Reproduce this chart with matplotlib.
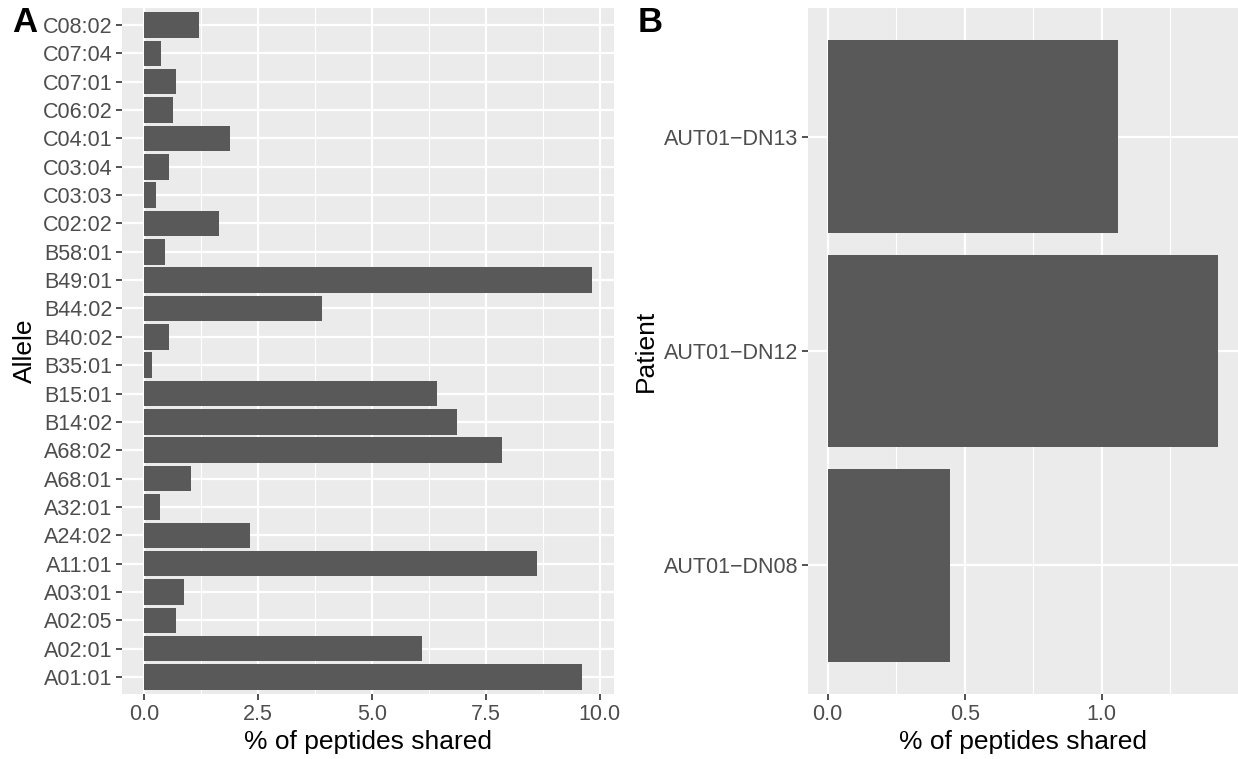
import matplotlib.pyplot as plt
import numpy as np
from matplotlib.ticker import MultipleLocator

plt.rcParams["font.family"] = ["Liberation Sans", "DejaVu Sans"]

alleles = ["A01:01", "A02:01", "A02:05", "A03:01", "A11:01", "A24:02", "A32:01",
           "A68:01", "A68:02", "B14:02", "B15:01", "B35:01", "B40:02", "B44:02",
           "B49:01", "B58:01", "C02:02", "C03:03", "C03:04", "C04:01", "C06:02",
           "C07:01", "C07:04", "C08:02"]
allele_pct = [9.60, 6.09, 0.69, 0.86, 8.61, 2.31, 0.34,
              1.03, 7.86, 6.86, 6.43, 0.17, 0.54, 3.89,
              9.82, 0.46, 1.64, 0.25, 0.54, 1.87, 0.63,
              0.69, 0.36, 1.20]

patients = ["AUT01\u2212DN08", "AUT01\u2212DN12", "AUT01\u2212DN13"]
patient_pct = [0.445, 1.425, 1.06]

BG = "#EBEBEB"
BAR = "#595959"
TICK = "#4D4D4D"
W, H = 1238, 759

fig = plt.figure(figsize=(W / 100, H / 100), dpi=100)


def gg_axes(rect, cats, vals, major, ylabel):
    ax = fig.add_axes(rect)
    ax.set_facecolor(BG)
    y = np.arange(len(cats))
    ax.barh(y, vals, height=0.9, color=BAR, zorder=3)
    top = max(vals)
    ax.set_xlim(-0.05 * top, top * 1.05)
    ax.set_ylim(-0.6, len(cats) - 0.4)
    ax.set_yticks(y)
    ax.set_yticklabels(cats)
    ax.xaxis.set_major_locator(MultipleLocator(major))
    ax.xaxis.set_minor_locator(MultipleLocator(major / 2))
    ax.xaxis.set_major_formatter(lambda v, p: f"{v:.1f}")
    ax.grid(which="major", color="white", lw=1.6, zorder=1)
    ax.grid(which="minor", axis="x", color="white", lw=0.8, zorder=1)
    ax.tick_params(which="major", length=4, width=1.2, color="#333333",
                   labelcolor=TICK, labelsize=15.5, pad=3)
    ax.tick_params(which="minor", length=0)
    for s in ax.spines.values():
        s.set_visible(False)
    ax.set_xlabel("% of peptides shared", fontsize=19, labelpad=4)
    ax.set_ylabel(ylabel, fontsize=19, labelpad=4)
    ax.set_axisbelow(True)
    return ax


gg_axes([122 / W, 1 - 694 / H, (614 - 122) / W, (694 - 8) / H],
        alleles, allele_pct, 2.5, "Allele")
gg_axes([808 / W, 1 - 694 / H, (1238 - 808) / W, (694 - 8) / H],
        patients, patient_pct, 0.5, "Patient")

fig.text(12 / W, 1 - 22 / H, "A", fontsize=25, fontweight="bold", va="center")
fig.text(638 / W, 1 - 22 / H, "B", fontsize=25, fontweight="bold", va="center")

fig.savefig("out.png", dpi=100)
